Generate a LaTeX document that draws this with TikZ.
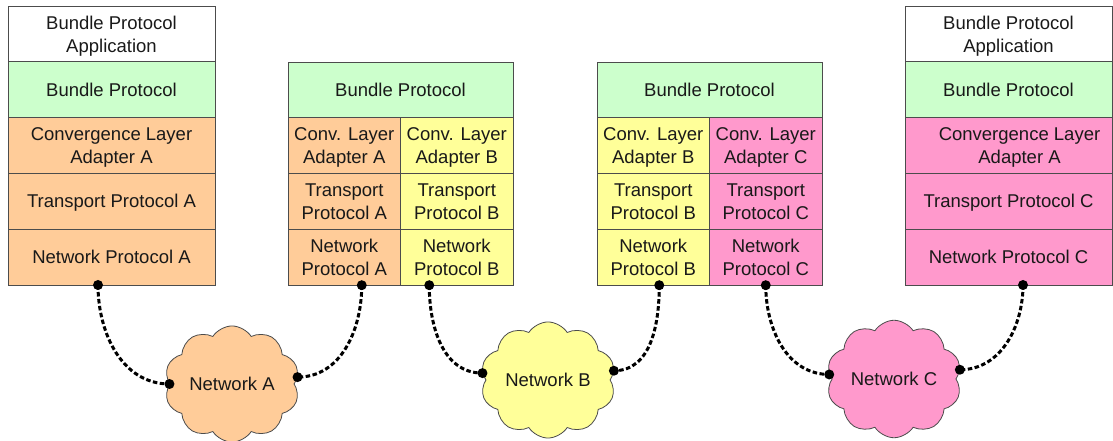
\documentclass[tikz,border=0pt]{standalone}
\usepackage{fontspec}
\setmainfont{Liberation Sans}
\usetikzlibrary{positioning,shapes.symbols}
\definecolor{peach}{HTML}{FFCC99}
\definecolor{mint}{HTML}{CCFFCC}
\definecolor{lemon}{HTML}{FFFF99}
\definecolor{rose}{HTML}{FF99CC}
\begin{document}
\begin{tikzpicture}[x=1pt,y=1pt,
    layer/.style={draw=black!70, line width=0.8pt, minimum height=55.8pt, outer sep=0pt,
        inner sep=0pt, text depth=0pt, align=center, text=black!90,
        font=\fontsize{18.5}{23}\selectfont},
    wide/.style={layer, minimum width=207pt},
    full/.style={layer, minimum width=225pt},
    half/.style={layer, minimum width=112.5pt},
    net/.style={cloud, cloud puffs=10, cloud puff arc=115, aspect=1.2, draw=black!70,
        line width=0.8pt, minimum width=135pt, minimum height=112pt, inner sep=0pt,
        text=black!90, font=\fontsize{18.5}{23}\selectfont},
    link/.style={line width=3pt, dash pattern=on 4.5pt off 2.5pt}]
    \useasboundingbox (0,0) rectangle (1113,441);
    % end node A
    \node[wide] (appL) at (111.5,407.1) {Bundle Protocol\\Application};
    \node[wide, fill=mint, below=0pt of appL] (bpL) {Bundle Protocol};
    \node[wide, fill=peach, below=0pt of bpL] (clL) {Convergence Layer\\Adapter A};
    \node[wide, fill=peach, below=0pt of clL] (tpL) {Transport Protocol A};
    \node[wide, fill=peach, below=0pt of tpL] (npL) {Network Protocol A};
    % router A/B
    \node[full, fill=mint] (bpM) at (400.5,351.1) {Bundle Protocol};
    \node[half, fill=peach, below=0pt of bpM.south west, anchor=north west] (clMa) {Conv. Layer\\Adapter A};
    \node[half, fill=lemon, right=0pt of clMa] (clMb) {Conv. Layer\\Adapter B};
    \node[half, fill=peach, below=0pt of clMa] (tpMa) {Transport\\Protocol A};
    \node[half, fill=lemon, below=0pt of clMb] (tpMb) {Transport\\Protocol B};
    \node[half, fill=peach, below=0pt of tpMa] (npMa) {Network\\Protocol A};
    \node[half, fill=lemon, below=0pt of tpMb] (npMb) {Network\\Protocol B};
    % router B/C
    \node[full, fill=mint] (bpN) at (709.5,351.1) {Bundle Protocol};
    \node[half, fill=lemon, below=0pt of bpN.south west, anchor=north west] (clNb) {Conv. Layer\\Adapter B};
    \node[half, fill=rose, right=0pt of clNb] (clNc) {Conv. Layer\\Adapter C};
    \node[half, fill=lemon, below=0pt of clNb] (tpNb) {Transport\\Protocol B};
    \node[half, fill=rose, below=0pt of clNc] (tpNc) {Transport\\Protocol C};
    \node[half, fill=lemon, below=0pt of tpNb] (npNb) {Network\\Protocol B};
    \node[half, fill=rose, below=0pt of tpNc] (npNc) {Network\\Protocol C};
    % end node C
    \node[wide] (appR) at (1008.5,407.1) {Bundle Protocol\\Application};
    \node[wide, fill=mint, below=0pt of appR] (bpR) {Bundle Protocol};
    \node[wide, fill=rose, below=0pt of bpR] (clR) {\hspace*{22pt}Convergence Layer\\\hspace*{22pt}Adapter A};
    \node[wide, fill=rose, below=0pt of clR] (tpR) {Transport Protocol C};
    \node[wide, fill=rose, below=0pt of tpR] (npR) {Network Protocol C};
    % networks
    \node[net, fill=peach] (netA) at (232,57) {Network A};
    \node[net, fill=lemon] (netB) at (548,61) {Network B};
    \node[net, fill=rose] (netC) at (894,62) {Network C};
    % attachment points
    \coordinate (pL) at ([xshift=-13.5pt]npL.south);
    \coordinate (pMa) at ([xshift=17.5pt]npMa.south);
    \coordinate (pMb) at ([xshift=-27.5pt]npMb.south);
    \coordinate (pNb) at ([xshift=6pt]npNb.south);
    \coordinate (pNc) at (npNc.south);
    \coordinate (pR) at ([xshift=14.5pt]npR.south);
    \coordinate (aW) at (netA.180);
    \coordinate (aE) at (netA.6);
    \coordinate (bW) at (netB.174);
    \coordinate (bE) at (netB.8);
    \coordinate (cW) at (netC.176);
    \coordinate (cE) at (netC.8);
    \draw[link] (pL) to[out=-90, in=180] (aW);
    \draw[link] (pMa) to[out=-90, in=0] (aE);
    \draw[link] (pMb) to[out=-90, in=180] (bW);
    \draw[link] (pNb) to[out=-90, in=0] (bE);
    \draw[link] (pNc) to[out=-90, in=180] (cW);
    \draw[link] (pR) to[out=-90, in=0] (cE);
    \foreach \p in {pL,pMa,pMb,pNb,pNc,pR,aW,aE,bW,bE,cW,cE}
        \fill (\p) circle (5pt);
\end{tikzpicture}
\end{document}
